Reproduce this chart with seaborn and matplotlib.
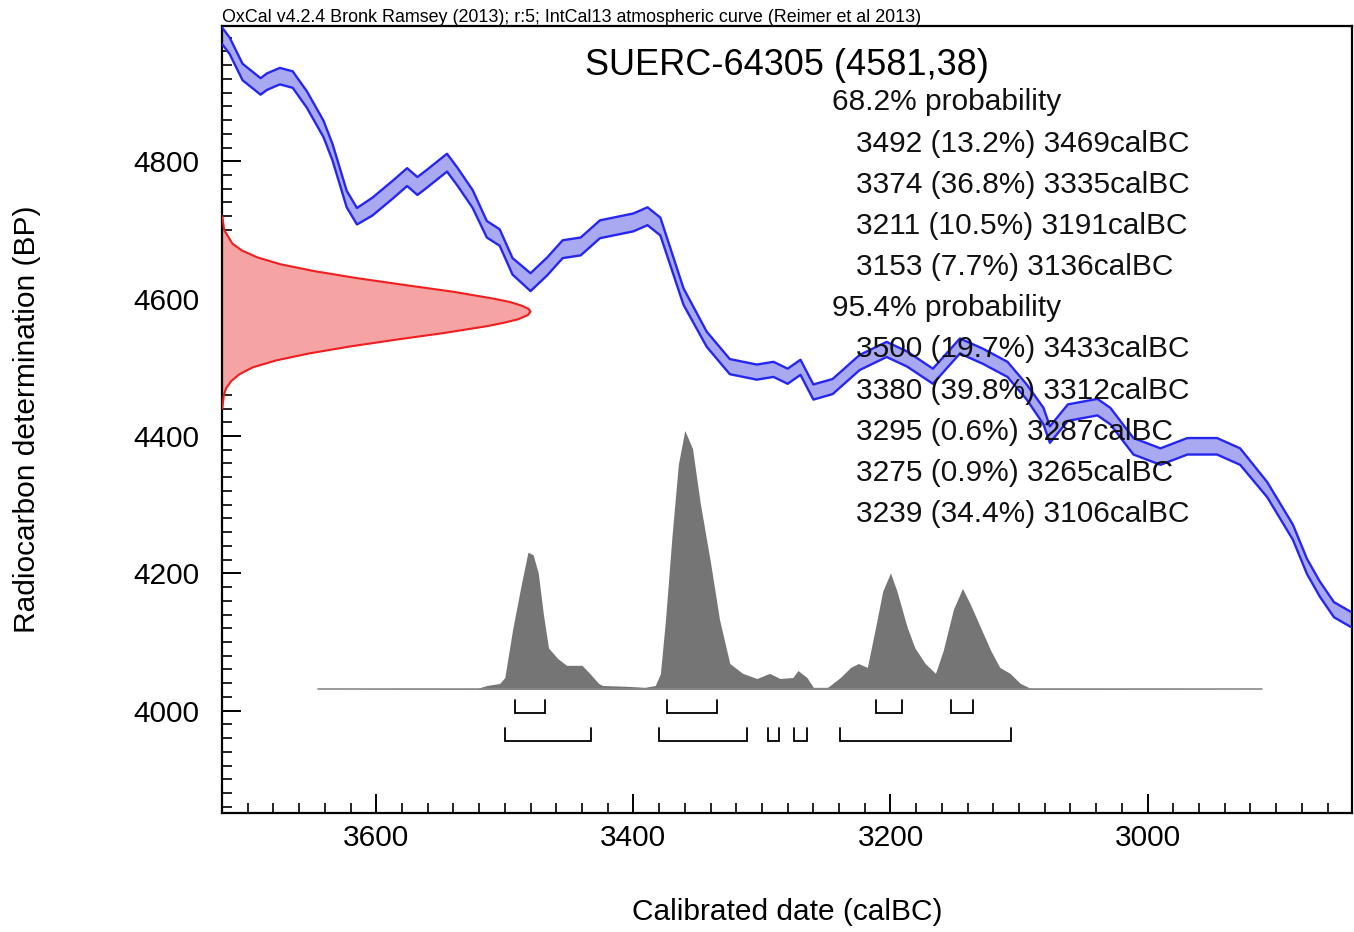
import numpy as np
import pandas as pd
import matplotlib
matplotlib.use("Agg")
import matplotlib.pyplot as plt
from matplotlib.ticker import MultipleLocator
import seaborn as sns

# ---------------- data ----------------
header = "OxCal v4.2.4 Bronk Ramsey (2013); r:5; IntCal13 atmospheric curve (Reimer et al 2013)"
sample_name = "SUERC-64305"
sample_bp = 4581
sample_err = 38

# IntCal13 calibration curve: calendar year BC, 14C BP centre, 1-sigma
cal_year = [3720, 3714, 3704, 3690, 3685, 3675, 3665, 3654, 3641, 3634, 3623, 3615,
            3603, 3587, 3576, 3568, 3561, 3545, 3537, 3525, 3514, 3504, 3494, 3480,
            3467, 3455, 3441, 3426, 3400, 3389, 3379, 3361, 3343, 3325, 3304, 3291,
            3280, 3270, 3260, 3245, 3224, 3203, 3187, 3167, 3146, 3128, 3109, 3094,
            3081, 3076, 3062, 3039, 3029, 3011, 2990, 2969, 2946, 2928, 2907, 2887,
            2876, 2866, 2855, 2842]
cal_bp = [4983, 4968, 4930, 4909, 4916, 4924, 4919, 4890, 4847, 4813, 4745, 4720,
          4734, 4759, 4777, 4764, 4774, 4798, 4778, 4745, 4701, 4689, 4647, 4624,
          4647, 4672, 4676, 4701, 4711, 4720, 4705, 4603, 4541, 4501, 4493, 4497,
          4487, 4500, 4464, 4472, 4507, 4526, 4512, 4487, 4531, 4516, 4497, 4464,
          4429, 4402, 4434, 4442, 4429, 4385, 4370, 4385, 4385, 4370, 4322, 4260,
          4210, 4177, 4147, 4133]
cal_sigma = [12, 12, 12, 12, 12, 12, 12, 12, 12, 12, 12, 12,
             13, 13, 13, 13, 13, 13, 13, 13, 12, 12, 12, 13,
             13, 13, 13, 13, 13, 13, 13, 12, 11, 11, 11, 11,
             11, 11, 11, 11, 11, 11, 11, 11, 11, 11, 11, 11,
             12, 12, 12, 12, 12, 12, 12, 12, 12, 12, 11, 11,
             11, 11, 11, 11]

# radiocarbon date distribution (relative density)
red_bp = [4720, 4700, 4680, 4670, 4660, 4650, 4640, 4630, 4620, 4610, 4600, 4595,
          4590, 4585, 4581, 4576, 4570, 4565, 4560, 4550, 4540, 4530, 4520, 4510,
          4500, 4490, 4480, 4470, 4460, 4440]
red_density = [0.001, 0.007, 0.034, 0.065, 0.115, 0.19, 0.30, 0.435, 0.59, 0.75, 0.88, 0.934,
               0.97, 0.994, 1.0, 0.991, 0.96, 0.915, 0.86, 0.72, 0.56, 0.41, 0.28, 0.175,
               0.10, 0.057, 0.03, 0.014, 0.006, 0.001]

# calibrated (posterior) distribution (relative density)
post_year = [3645, 3522, 3514, 3504, 3500, 3494, 3487, 3482, 3478, 3474, 3470, 3466,
             3459, 3452, 3440, 3434, 3427, 3424, 3405, 3391, 3383, 3379, 3375, 3370,
             3365, 3360, 3354, 3348, 3340, 3333, 3325, 3315, 3304, 3294, 3286, 3276,
             3272, 3265, 3260, 3249, 3247, 3239, 3231, 3225, 3218, 3212, 3206, 3200,
             3195, 3187, 3181, 3173, 3165, 3159, 3151, 3144, 3138, 3130, 3122, 3115,
             3107, 3099, 3091, 2911]
post_density = [0.0, 0.003, 0.015, 0.023, 0.046, 0.23, 0.41, 0.53, 0.52, 0.45, 0.29, 0.16,
                0.12, 0.093, 0.093, 0.062, 0.023, 0.015, 0.012, 0.008, 0.015, 0.06, 0.27, 0.59,
                0.87, 1.0, 0.93, 0.72, 0.49, 0.27, 0.10, 0.062, 0.042, 0.062, 0.042, 0.046,
                0.073, 0.046, 0.008, 0.008, 0.015, 0.046, 0.085, 0.10, 0.085, 0.23, 0.38, 0.45,
                0.38, 0.24, 0.16, 0.10, 0.062, 0.15, 0.31, 0.39, 0.33, 0.24, 0.15, 0.085,
                0.062, 0.023, 0.004, 0.0]

# probability ranges
range68_from = [3492, 3374, 3211, 3153]
range68_to = [3469, 3335, 3191, 3136]
range68_pct = [13.2, 36.8, 10.5, 7.7]
range95_from = [3500, 3380, 3295, 3275, 3239]
range95_to = [3433, 3312, 3287, 3265, 3106]
range95_pct = [19.7, 39.8, 0.6, 0.9, 34.4]

# ---------------- style ----------------
sns.set_theme(style="white")
plt.rcParams["font.family"] = ["Liberation Sans", "DejaVu Sans"]

W, H = 1354, 932
fig = plt.figure(figsize=(W / 100, H / 100), dpi=100)
ax_left, ax_right, ax_top, ax_bottom = 222, 1352, 26, 813
ax = fig.add_axes([ax_left / W, 1 - ax_bottom / H, (ax_right - ax_left) / W, (ax_bottom - ax_top) / H])

XMAX, XMIN = 3720, 2841
YMIN, YMAX = 3851, 4997
ax.set_xlim(XMAX, XMIN)
ax.set_ylim(YMIN, YMAX)

# calibration curve band
cal = pd.DataFrame({"year": cal_year, "bp": cal_bp, "sig": cal_sigma})
cal["hi"] = cal["bp"] + cal["sig"]
cal["lo"] = cal["bp"] - cal["sig"]
ax.fill_between(cal["year"], cal["lo"], cal["hi"], color="#A9A9F2", lw=0, zorder=2)
sns.lineplot(data=cal, x="year", y="hi", ax=ax, color="#2626F2", lw=1.7, zorder=3, estimator=None)
sns.lineplot(data=cal, x="year", y="lo", ax=ax, color="#2626F2", lw=1.7, zorder=3, estimator=None)

# radiocarbon date (red) on the y axis
red = pd.DataFrame({"bp": red_bp, "d": red_density})
red_amp = 240  # years of x extent for peak
red["x"] = XMAX - red["d"] * red_amp
ax.fill_betweenx(red["bp"], XMAX, red["x"], color="#F5A3A3", lw=0, zorder=2)
sns.lineplot(data=red, x="x", y="bp", ax=ax, color="#F01E1E", lw=1.5, sort=False,
             estimator=None, zorder=3)

# calibrated distribution (grey)
post = pd.DataFrame({"year": post_year, "d": post_density})
base_bp, post_amp = 4031, 377
post["y"] = base_bp + post["d"] * post_amp
ax.fill_between(post["year"], base_bp, post["y"], color="#757575", lw=0, zorder=2)
ax.plot([post_year[0], post_year[-1]], [base_bp, base_bp], color="#8A8A8A", lw=1.2, zorder=2)

# range brackets
def bracket(a, b, y, h):
    ax.plot([a, a, b, b], [y + h, y, y, y + h], color="black", lw=1.3, zorder=4,
            solid_joinstyle="miter")

for a, b in zip(range68_from, range68_to):
    bracket(a, b, 3997, 19)
for a, b in zip(range95_from, range95_to):
    bracket(a, b, 3956, 19)

# axes styling
for s in ax.spines.values():
    s.set_visible(True)
    s.set_color("black")
    s.set_linewidth(1.6)
ax.xaxis.set_major_locator(MultipleLocator(200))
ax.xaxis.set_minor_locator(MultipleLocator(20))
ax.yaxis.set_major_locator(MultipleLocator(200))
ax.yaxis.set_minor_locator(MultipleLocator(20))
ax.tick_params(axis="both", which="major", direction="in", length=14, width=1.4,
               color="black", labelsize=21.5, labelcolor="black")
ax.tick_params(axis="both", which="minor", direction="in", length=7, width=1.2, color="black")
ax.tick_params(axis="x", which="both", bottom=True, top=False, pad=8)
ax.tick_params(axis="y", which="both", left=True, right=False, pad=16)
ax.set_facecolor("white")
ax.grid(False)

ax.set_xlabel("Calibrated date (calBC)", fontsize=21.5, color="black")
ax.set_ylabel("Radiocarbon determination (BP)", fontsize=21.5, color="black")
ax.xaxis.set_label_coords(0.5, (ax_bottom - 912) / (ax_bottom - ax_top))
ax.xaxis.label.set_va("center")
ax.yaxis.set_label_coords((27 - ax_left) / (ax_right - ax_left), 0.5)
ax.yaxis.label.set_va("center")

# header and title
fig.text(ax_left / W, 1 - 22 / H, header, fontsize=12.9, color="black", ha="left", va="baseline")
fig.text(787 / W, 1 - 75 / H, f"{sample_name} ({sample_bp},{sample_err})", fontsize=26,
         color="black", ha="center", va="baseline", zorder=10)

lines = [("68.2% probability", 832)]
for a, p, b in zip(range68_from, range68_pct, range68_to):
    lines.append((f"{a} ({p:.1f}%) {b}calBC", 856))
lines.append(("95.4% probability", 832))
for a, p, b in zip(range95_from, range95_pct, range95_to):
    lines.append((f"{a} ({p:.1f}%) {b}calBC", 856))
for i, (txt, xpx) in enumerate(lines):
    fig.text(xpx / W, 1 - (110.5 + i * 41.15) / H, txt, fontsize=21.5, color="#111111",
             ha="left", va="baseline", zorder=10)

fig.savefig("out.png", dpi=100, facecolor="white")
